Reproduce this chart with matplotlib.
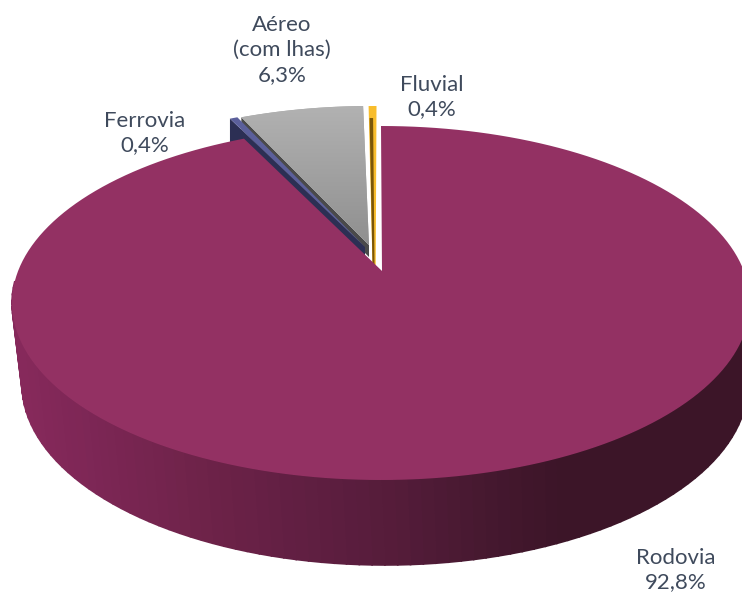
import numpy as np
import matplotlib
matplotlib.use("Agg")
import matplotlib.pyplot as plt
from matplotlib.patches import Polygon
from matplotlib.colors import LinearSegmentedColormap

# ---- data
categories = ["Rodovia", "Ferrovia", "Aéreo\n(com lhas)", "Fluvial"]
shares = [92.8, 0.4, 6.3, 0.4]

# ---- geometry / style
CX, CY, RX, RY = 381, 303, 369, 177
BX, BY, BRX, BRY = 385, 384, 363, 181
top_colors = ["#933163", "#5b5f9b", "#a6a6a6", "#f8bd2c"]
side_colors = [None, "#2c2f54", "#4a4a4a", "#7a5608"]
centers = [(CX, CY), (367, 283), (371, 283), (376.5, 283)]
apexes = [(382, 271), (365, 247), (369, 245), (374.5, 265)]
side_depth = 0, 26, 12, 22
label_pos = [(676, 570), (145, 133), (282, 50), (432, 97)]
TEXT = "#3f4a5c"
plt.rcParams["font.family"] = ["Lato", "DejaVu Sans"]

fig = plt.figure(figsize=(7.42, 5.92), dpi=100)
ax = fig.add_axes([0, 0, 1, 1])
ax.set_xlim(0, 742)
ax.set_ylim(592, 0)
ax.axis("off")

total = sum(shares)
edges = np.cumsum([0] + shares) / total * 360
R_END = edges[1]


def view_angle(theta):
    theta = np.asarray(theta, float)
    return np.where(theta <= R_END, theta * 338.2 / R_END,
                    338.2 + (theta - R_END) * 21.8 / (360 - R_END))


def ell(theta, cx, cy, rx, ry):
    a = np.radians(view_angle(theta))
    return np.column_stack([cx + rx * np.sin(a), cy - ry * np.cos(a)])


# ---- outer side wall of Rodovia, banded
side_cmap = LinearSegmentedColormap.from_list(
    "side", [(0, "#86295b"), (0.15, "#7b2654"), (0.33, "#6e2349"), (0.51, "#611f42"),
             (0.69, "#551c3a"), (0.87, "#45182f"), (1, "#3c1528")])
th = np.linspace(86, 274, 95)
for a0, a1 in zip(th[:-1], th[1:]):
    vis = np.array([a0, a1])
    p_top = ell(vis, CX, CY, RX, RY)
    p_bot = ell(vis, BX, BY, BRX, BRY)
    t = np.clip((p_top[:, 0].mean() - 20) / 540, 0, 1)
    c = side_cmap(t)
    ax.add_patch(Polygon(np.vstack([p_top, p_bot[::-1]]), closed=True, fc=c, ec=c, lw=1.2, zorder=1))


def wedge_points(i, cx, cy):
    return ell(np.linspace(edges[i], edges[i + 1], 200), cx, cy, RX, RY)


# ---- small exploded slices behind Rodovia
for i, order_z in [(2, 2), (1, 4), (3, 3)]:
    arc = wedge_points(i, *centers[i])
    apex = np.array(apexes[i], float)
    d = side_depth[i]
    if i == 3:
        ax.add_patch(Polygon(np.vstack([arc, apex + [1.2, 0], apex + [-2, 0]]), closed=True,
                             fc=top_colors[i], ec="none", zorder=order_z))
        inner = np.array([arc[0] + [1.0, 12], arc[0] + [4.5, 12], apex + [0, 0], apex + [-2, 0]])
        ax.add_patch(Polygon(inner, closed=True, fc=side_colors[i], ec="none", zorder=order_z + .1))
        continue
    left = arc[0]
    side = np.array([left, apex, apex + [0, d], left + [0, d]])
    ax.add_patch(Polygon(side, closed=True, fc=side_colors[i], ec="none", zorder=order_z))
    face = Polygon(np.vstack([arc, apex]), closed=True, fc=top_colors[i], ec="none", zorder=order_z + .1)
    ax.add_patch(face)
    if i == 2:
        grad = np.linspace(0, 1, 200).reshape(-1, 1)
        cm = LinearSegmentedColormap.from_list("g", ["#b2b2b2", "#8f8f8f"])
        im = ax.imshow(grad, cmap=cm, extent=(230, 385, apex[1] + 2, arc[:, 1].min() - 2),
                       aspect="auto", zorder=order_z + .2, interpolation="bilinear")
        im.set_clip_path(face)

# ---- Rodovia top face
arc = wedge_points(0, CX, CY)
ax.add_patch(Polygon(np.vstack([arc, apexes[0]]), closed=True, fc=top_colors[0], ec="none", zorder=6))
ax.set_xlim(0, 742)
ax.set_ylim(592, 0)

# ---- labels
for name, v, (x, y) in zip(categories, shares, label_pos):
    ax.text(x, y, f"{name}\n{v:.1f}%".replace(".", ","), ha="center", va="center",
            fontsize=16, color=TEXT, linespacing=1.3, zorder=10)

fig.savefig("out.png", dpi=100)
